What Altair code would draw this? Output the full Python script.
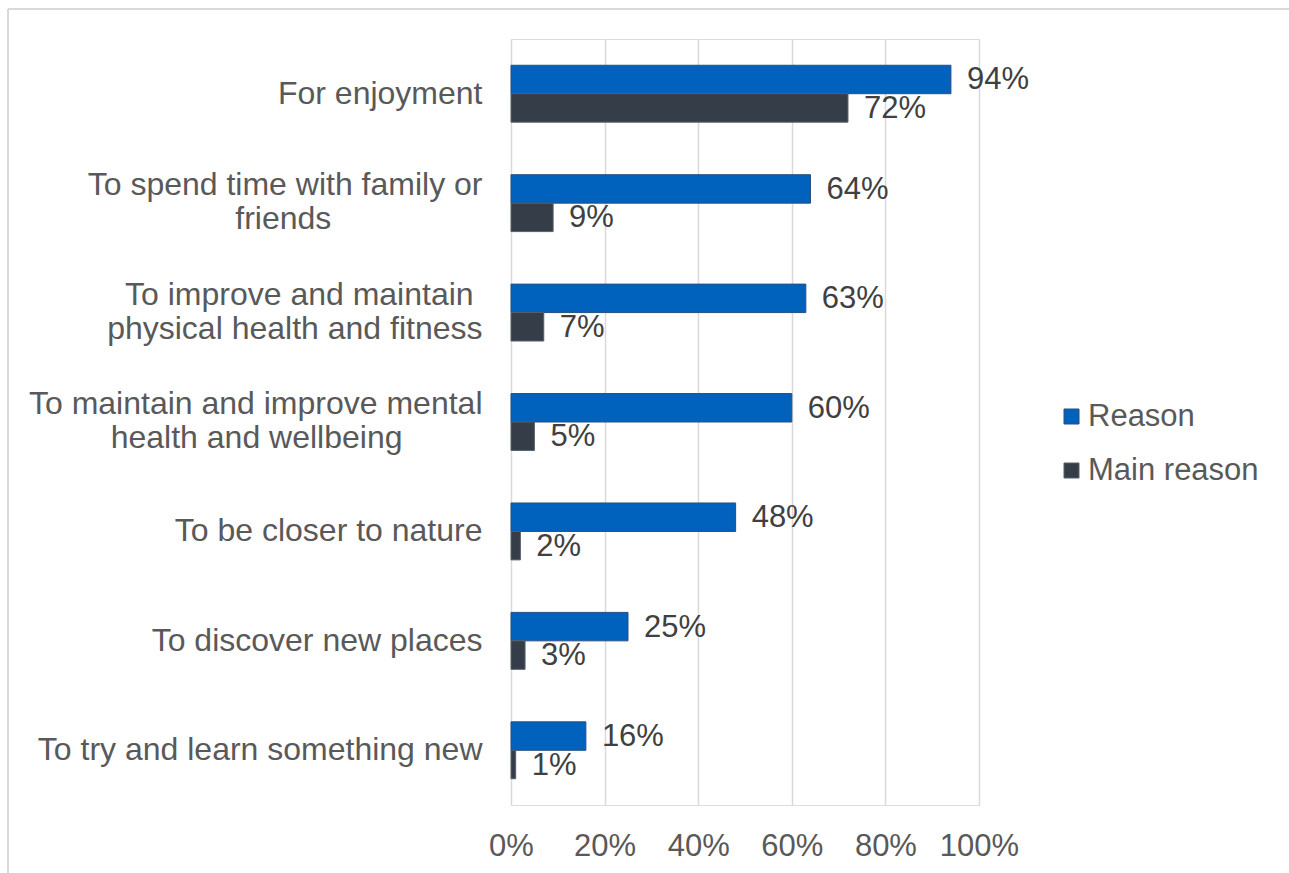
import altair as alt
import pandas as pd

categories = [
    "For enjoyment",
    "To spend time with family or\nfriends",
    "To improve and maintain \nphysical health and fitness",
    "To maintain and improve mental\nhealth and wellbeing",
    "To be closer to nature",
    "To discover new places",
    "To try and learn something new",
]
series = ["Reason", "Main reason"]
reason = [94, 64, 63, 60, 48, 25, 16]
main_reason = [72, 9, 7, 5, 2, 3, 1]
x_ticks = [0, 20, 40, 60, 80, 100]
colors = ["#0062BD", "#343D48"]

# styling: count of trailing non-breaking spaces per line so that the lines
# of a wrapped category label look centred on each other, as in the original
line_pad = {1: [0, 17], 2: [0, 0], 3: [0, 9]}

rows = []
for c, r, m in zip(categories, reason, main_reason):
    rows.append({"category": c, "series": series[0], "value": r})
    rows.append({"category": c, "series": series[1], "value": m})
df = pd.DataFrame(rows)

# label expression: category -> list of lines, shorter line padded
# (a zero-width space at the end keeps the padding from being trimmed)
expr = "split(datum.value, '\\n')"
for i, pads in line_pad.items():
    lines = categories[i].split("\n")
    parts = []
    for k, p in enumerate(pads):
        piece = f"split(datum.value, '\\n')[{k}] + '" + "\\u00a0" * p + "\\u200b'"
        parts.append(piece)
    arr = "[" + ", ".join(parts) + "]"
    expr = f"(indexof(datum.value, '{lines[0]}') === 0) ? {arr} : ({expr})"

FONT = "Liberation Sans"
FS = 31

y_enc = alt.Y(
    "category:N",
    sort=categories,
    scale=alt.Scale(paddingInner=0.48, paddingOuter=0.24),
    axis=alt.Axis(
        title=None,
        labelExpr=expr,
        labelFontSize=32,
        labelColor="#595959",
        labelFont=FONT,
        labelLineHeight=34,
        labelPadding=29,
        labelLimit=600,
        labelBaseline={
            "condition": {"test": "indexof(datum.value, '\\n') >= 0", "value": "line-bottom"},
            "value": "middle",
        },
        ticks=False,
        domain=False,
        grid=False,
    ),
)
x_enc = alt.X(
    "value:Q",
    scale=alt.Scale(domain=[0, 100], nice=False),
    axis=alt.Axis(
        title=None,
        values=x_ticks,
        labelExpr="datum.value + '%'",
        labelFontSize=FS,
        labelColor="#595959",
        labelFont=FONT,
        labelPadding=26,
        labelOverlap=False,
        labelFlush=False,
        ticks=False,
        domain=False,
        grid=True,
        gridColor="#D9D9D9",
        gridWidth=1.5,
    ),
)
yoff = alt.YOffset("series:N", sort=series, scale=alt.Scale(paddingInner=0, paddingOuter=0))

base = alt.Chart(df)

bars = base.mark_bar(strokeWidth=1).encode(
    x=x_enc,
    y=y_enc,
    yOffset=yoff,
    color=alt.Color(
        "series:N",
        sort=series,
        scale=alt.Scale(domain=series, range=colors),
        legend=alt.Legend(
            title=None,
            orient="none",
            legendX=545,
            legendY=362,
            labelFontSize=FS,
            labelFont=FONT,
            labelColor="#595959",
            labelLimit=400,
            symbolType="square",
            symbolSize=225,
            symbolStrokeWidth=1,
            symbolStrokeColor="#2F4F7F",
            rowPadding=22,
            labelOffset=1,
        ),
    ),
    stroke=alt.Stroke(
        "series:N",
        sort=series,
        scale=alt.Scale(domain=series, range=["#2A4E80", "#56606B"]),
        legend=None,
    ),
)

labels = base.mark_text(
    align="left", baseline="middle", dx=16, dy=1, fontSize=FS, font=FONT, color="#404040"
).encode(
    x="value:Q",
    y=alt.Y("category:N", sort=categories),
    yOffset=yoff,
    text=alt.Text("label:N"),
).transform_calculate(label="datum.value + '%'")

frame_top = alt.Chart(df).mark_rule(color="#D9D9D9", strokeWidth=2).encode(
    x=alt.value(-503), x2=alt.value(800), y=alt.value(-30)
)
frame_left = alt.Chart(df).mark_rule(color="#D9D9D9", strokeWidth=2).encode(
    x=alt.value(-503), y=alt.value(-30), y2=alt.value(840)
)

chart = alt.layer(frame_top, frame_left, bars, labels).properties(
    width=468,
    height=766,
    autosize=alt.AutoSizeParams(type="none"),
    padding={"left": 511, "top": 39, "right": 310, "bottom": 68},
    background="white",
).configure_view(stroke=None).configure(font=FONT)

chart.save("out.html", embed_options={"renderer": "svg", "actions": False})
